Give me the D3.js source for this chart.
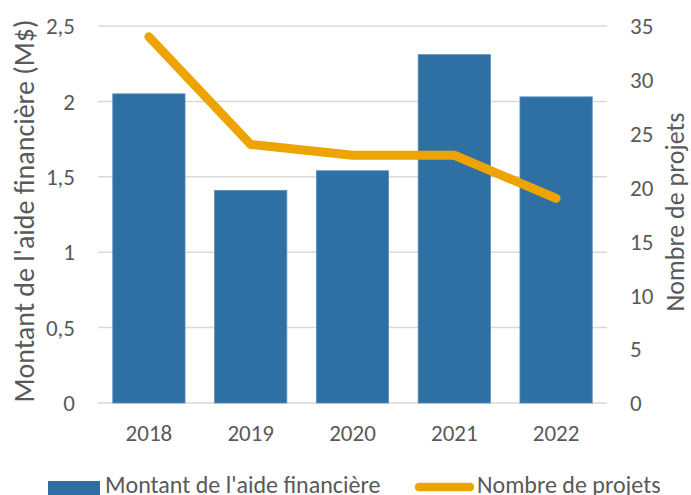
<!DOCTYPE html>
<html>
<head>
<meta charset="utf-8">
<script src="https://cdn.jsdelivr.net/npm/d3@7"></script>
<style>
  body { margin: 0; background: #fff; overflow: hidden; }
  text { font-family: Carlito, Calibri, Lato, sans-serif; fill: #595959; }
</style>
</head>
<body>
<div id="chart"></div>
<script>
const years = ["2018", "2019", "2020", "2021", "2022"];
const montant = [2.05, 1.41, 1.54, 2.31, 2.03];
const projets = [34, 24, 23, 23, 19];
const leftTicks = [0, 0.5, 1, 1.5, 2, 2.5];
const rightTicks = [0, 5, 10, 15, 20, 25, 30, 35];

const width = 691, height = 495;
const margin = { top: 26, right: 84, bottom: 92, left: 98 };
const innerW = width - margin.left - margin.right;
const innerH = height - margin.top - margin.bottom;

const barColor = "#2e6fa4";
const lineColor = "#eda300";

const svg = d3.select("#chart").append("svg")
    .attr("width", width)
    .attr("height", height);

const g = svg.append("g")
    .attr("transform", `translate(${margin.left},${margin.top})`);

const x = d3.scaleBand().domain(years).range([0, innerW]).paddingInner(0.29).paddingOuter(0.145);
const yL = d3.scaleLinear().domain([0, 2.5]).range([innerH, 0]);
const yR = d3.scaleLinear().domain([0, 35]).range([innerH, 0]);

const fmt = d => String(d).replace(".", ",");

// gridlines
g.selectAll(".grid")
    .data(leftTicks)
    .enter().append("line")
    .attr("x1", 0).attr("x2", innerW)
    .attr("y1", d => yL(d)).attr("y2", d => yL(d))
    .style("stroke", "#d9d9d9")
    .style("stroke-width", 1.5);

// bars
g.selectAll(".bar")
    .data(montant)
    .enter().append("rect")
    .attr("x", (d, i) => x(years[i]))
    .attr("width", x.bandwidth())
    .attr("y", d => yL(d))
    .attr("height", d => innerH - yL(d))
    .style("fill", barColor)
    .style("stroke", "#5a8fbf")
    .style("stroke-width", 0.8);

// line
const line = d3.line()
    .x((d, i) => x(years[i]) + x.bandwidth() / 2)
    .y(d => yR(d));

g.append("path")
    .datum(projets)
    .attr("fill", "none")
    .attr("stroke", lineColor)
    .attr("stroke-width", 9)
    .attr("stroke-linecap", "round")
    .attr("stroke-linejoin", "round")
    .attr("d", line);

// left axis labels
g.selectAll(".ltick")
    .data(leftTicks)
    .enter().append("text")
    .attr("x", -23)
    .attr("y", d => yL(d))
    .attr("dy", "0.36em")
    .attr("text-anchor", "end")
    .style("font-size", "23px")
    .text(fmt);

// right axis labels
g.selectAll(".rtick")
    .data(rightTicks)
    .enter().append("text")
    .attr("x", innerW + 23)
    .attr("y", d => yR(d))
    .attr("dy", "0.36em")
    .attr("text-anchor", "start")
    .style("font-size", "23px")
    .text(d => d);

// x labels
g.selectAll(".xtick")
    .data(years)
    .enter().append("text")
    .attr("x", d => x(d) + x.bandwidth() / 2)
    .attr("y", 441 - margin.top)
    .attr("text-anchor", "middle")
    .style("font-size", "23px")
    .text(d => d);

// axis titles
svg.append("text")
    .attr("transform", "translate(34,211) rotate(-90)")
    .attr("text-anchor", "middle")
    .style("font-size", "28px")
    .text("Montant de l'aide financière (M$)");

svg.append("text")
    .attr("transform", "translate(684,212) rotate(-90)")
    .attr("text-anchor", "middle")
    .style("font-size", "26px")
    .text("Nombre de projets");

// legend
const legend = svg.append("g");
legend.append("rect")
    .attr("x", 48).attr("y", 481)
    .attr("width", 52).attr("height", 16)
    .style("fill", barColor);
legend.append("text")
    .attr("x", 105).attr("y", 493)
    .style("font-size", "24px")
    .text("Montant de l'aide financière");
legend.append("line")
    .attr("x1", 419).attr("x2", 470)
    .attr("y1", 487).attr("y2", 487)
    .attr("stroke", lineColor)
    .attr("stroke-width", 8.5)
    .attr("stroke-linecap", "round");
legend.append("text")
    .attr("x", 477).attr("y", 493)
    .style("font-size", "24px")
    .text("Nombre de projets");
</script>
</body>
</html>
